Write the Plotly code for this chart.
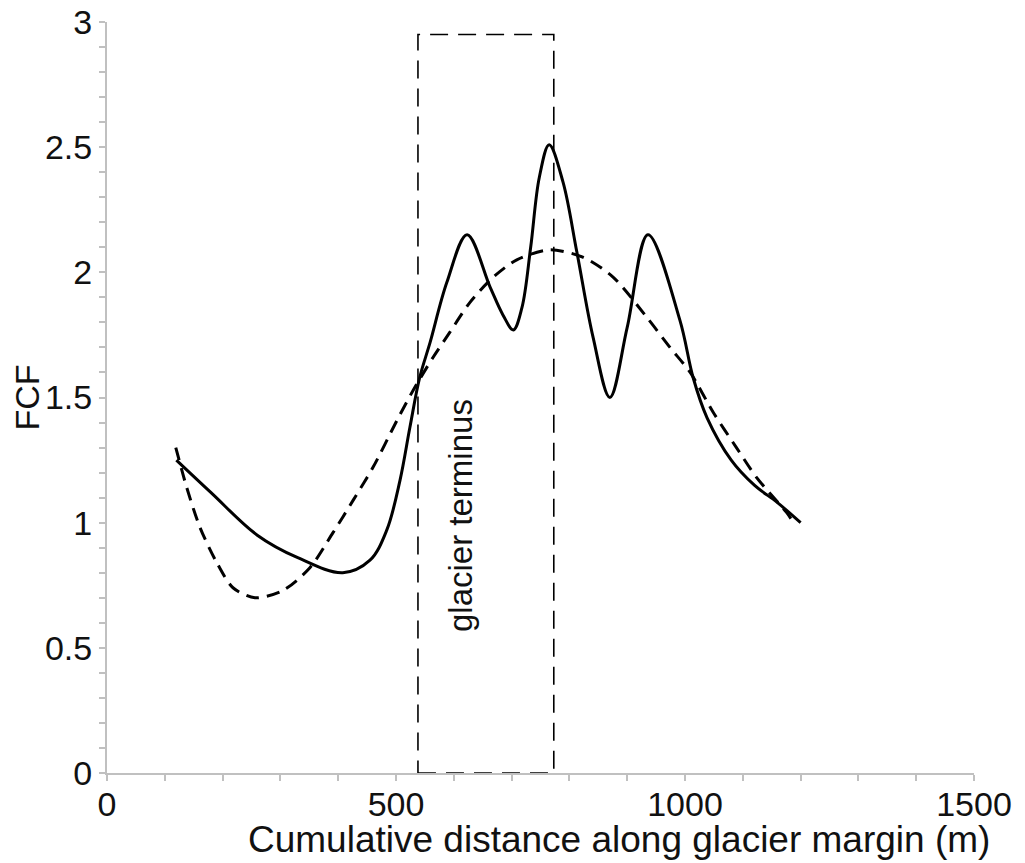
import plotly.graph_objects as go

# Solid curve (observed FCF)
solid_x = [120, 180, 260, 330, 408, 455, 484, 507, 524, 541, 559, 588, 623, 663, 685, 703,
           718, 733, 748, 765, 789, 813, 841, 870, 900, 936, 991, 1014, 1038, 1080, 1120, 1160, 1200]
solid_y = [1.25, 1.12, 0.95, 0.86, 0.80, 0.85, 0.97, 1.17, 1.38, 1.58, 1.72, 1.96, 2.15, 1.94, 1.83, 1.77,
           1.86, 2.10, 2.38, 2.51, 2.36, 2.08, 1.74, 1.50, 1.78, 2.15, 1.81, 1.58, 1.42, 1.25, 1.15, 1.08, 1.00]

# Dashed curve (smoothed trend)
dash_x = [119, 138, 161, 190, 218, 256, 305, 351, 391, 426, 460, 502, 530, 564, 593, 628, 668, 709, 766,
          824, 876, 934, 974, 1009, 1049, 1089, 1124, 1176, 1185]
dash_y = [1.30, 1.14, 0.98, 0.84, 0.74, 0.70, 0.73, 0.82, 0.96, 1.09, 1.22, 1.41, 1.53, 1.66, 1.76, 1.88, 1.98, 2.05, 2.09,
          2.06, 1.98, 1.82, 1.70, 1.60, 1.44, 1.30, 1.18, 1.04, 1.01]

# Glacier terminus box
terminus_start = 538
terminus_end = 773
terminus_top = 2.95
terminus_label = "glacier terminus"
x_title = "Cumulative distance along glacier margin (m)"

fig = go.Figure()
fig.add_trace(go.Scatter(x=dash_x, y=dash_y, mode="lines",
                         line=dict(color="black", width=3, dash="13px,8px", shape="spline", smoothing=0.8),
                         showlegend=False, hoverinfo="skip"))
fig.add_trace(go.Scatter(x=solid_x, y=solid_y, mode="lines",
                         line=dict(color="black", width=3, shape="spline", smoothing=1.0),
                         showlegend=False, hoverinfo="skip"))

fig.add_shape(type="rect", xref="x", yref="y",
              x0=terminus_start, x1=terminus_end, y0=0, y1=terminus_top,
              line=dict(color="black", width=1.6, dash="18px,10px"))

fig.add_annotation(x=(terminus_start + terminus_end) / 2 - 45, y=1.03, xref="x", yref="y",
                   text=terminus_label, textangle=-90, showarrow=False,
                   font=dict(family="Liberation Sans, Arial", size=33, color="#111111"))

# x-axis title (offset to the right as in the original)
fig.add_annotation(x=0.5905, y=-0.088, xref="paper", yref="paper",
                   xanchor="center", yanchor="middle", text=x_title, showarrow=False,
                   font=dict(family="Liberation Sans, Arial", size=37, color="#111111"))

axis_color = "#c0c0c0"
fig.update_layout(
    width=1017, height=855,
    margin=dict(l=99, r=51, t=14, b=90),
    plot_bgcolor="white", paper_bgcolor="white",
    font=dict(family="Liberation Sans, Arial", size=34, color="#111111"),
    xaxis=dict(range=[0, 1500], dtick=500, showgrid=False, zeroline=False, automargin=False,
               showline=True, linecolor=axis_color, linewidth=2,
               ticks="outside", ticklen=6, tickwidth=2, tickcolor=axis_color,
               minor=dict(dtick=100, ticks="outside", ticklen=6, tickwidth=2, tickcolor=axis_color),
               ticklabelstandoff=-6, ticklabeloverflow="allow",
               tickfont=dict(size=34)),
    yaxis=dict(range=[0, 3], dtick=0.5, showgrid=False, zeroline=False, automargin=False,
               showline=True, linecolor=axis_color, linewidth=2,
               ticks="outside", ticklen=6, tickwidth=2, tickcolor=axis_color,
               minor=dict(dtick=0.1, ticks="outside", ticklen=6, tickwidth=2, tickcolor=axis_color),
               ticklabeloverflow="allow",
               title=dict(text="FCF", standoff=12, font=dict(size=34)),
               tickfont=dict(size=34)),
)

fig.write_html("out.html")
